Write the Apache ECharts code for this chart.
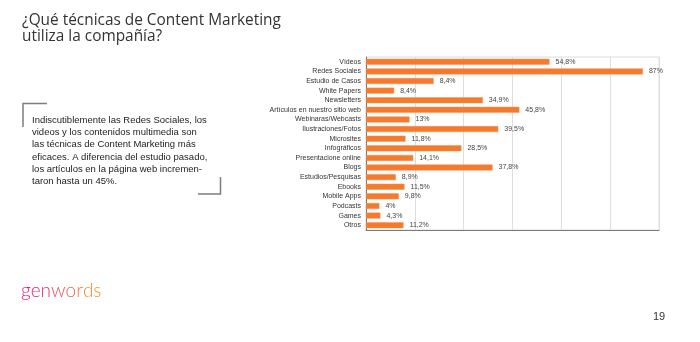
<!DOCTYPE html>
<html>
<head>
<meta charset="utf-8">
<script src="https://cdn.jsdelivr.net/npm/echarts@6/dist/echarts.min.js"></script>
<style>
html,body{margin:0;padding:0;background:#fff;}
#c{width:700px;height:342px;}
</style>
</head>
<body>
<div id="c"></div>
<script>
var categories = ["Vídeos","Redes Sociales","Estudio de Casos","White Papers","Newsletters","Artículos en nuestro sitio web","Webinaras/Webcasts","Ilustraciones/Fotos","Microsites","Infográficos","Presentacione online","Blogs","Estudios/Pesquisas","Ebooks","Mobile Apps","Podcasts","Games","Otros"];
// bar lengths as drawn in the picture (%)
var values = [54.8,82.7,20.2,8.4,34.9,45.8,13,39.5,11.8,28.5,14.1,37.8,8.9,11.5,9.8,4,4.3,11.2];
// value labels as printed
var valueLabels = ["54,8%","87%","8,4%","8,4%","34,9%","45,8%","13%","39,5%","11,8%","28,5%","14,1%","37,8%","8,9%","11,5%","9,8%","4%","4,3%","11,2%"];
var titleLines = ["¿Qué técnicas de Content Marketing","utiliza la compañía?"];
var noteLines = ["Indiscutiblemente las Redes Sociales, los","videos y los contenidos multimedia son","las técnicas de Content Marketing más","eficaces. A diferencia del estudio pasado,","los artículos en la página web incremen-","taron hasta un 45%."];
var logoLetters = ["g","e","n","w","o","r","d","s"];
var logoColors = ["#E8177F","#EA2378","#EC3470","#EF4A60","#F2634C","#F4773D","#F68830","#F79426"];
var pageNumber = "19";

var chart = echarts.init(document.getElementById('c'), null, {renderer:'canvas'});
var rich = {};
var logoText = '';
logoLetters.forEach(function(l,i){ rich['l'+i] = {fill: logoColors[i], color: logoColors[i], fontSize:19, fontFamily:'Lato, "Open Sans", sans-serif', fontWeight:300}; logoText += '{l'+i+'|'+l+'}'; });

chart.setOption({
  animation:false,
  grid:{left:366,right:41,top:57,bottom:112,show:true,borderColor:'#dcdcdc',borderWidth:1,backgroundColor:'transparent'},
  xAxis:{type:'value',min:0,max:87.5,interval:87.5/6,
    axisLabel:{show:false},axisTick:{show:false},
    axisLine:{show:true,lineStyle:{color:'#7a7a7a',width:1}},
    splitLine:{show:true,lineStyle:{color:'#dedede',width:1}}},
  yAxis:{type:'category',data:categories,inverse:true,
    axisTick:{show:false},
    axisLine:{show:true,lineStyle:{color:'#7a7a7a',width:1}},
    axisLabel:{fontSize:7,color:'#333',margin:5,fontFamily:'"Liberation Sans", Arial, sans-serif'}},
  series:[{type:'bar',data:values,barWidth:6,
    itemStyle:{color:'#F47A2C',borderColor:'#F5915A',borderWidth:0.5},
    label:{show:true,position:'right',distance:6,fontSize:7,color:'#444',fontFamily:'"Liberation Sans", Arial, sans-serif',
      formatter:function(p){return valueLabels[p.dataIndex];}}}],
  graphic:[
    {type:'text',left:22,top:12,style:{text:titleLines.join('\n'),fontSize:15.4,lineHeight:16.5,fill:'#333',fontFamily:'"Open Sans", Lato, sans-serif'}},
    {type:'text',left:32,top:114,style:{text:noteLines.join('\n'),fontSize:9.5,lineHeight:12.3,fill:'#222',fontFamily:'"Liberation Sans", Arial, sans-serif'}},
    {type:'polyline',shape:{points:[[23,127],[23,103.5],[47,103.5]]},style:{stroke:'#7d7d7d',lineWidth:1.5,fill:null}},
    {type:'polyline',shape:{points:[[198,194],[220.5,194],[220.5,177]]},style:{stroke:'#7d7d7d',lineWidth:1.5,fill:null}},
    {type:'text',left:21,top:281,style:{text:logoText,rich:rich,fontSize:19}},
    {type:'text',left:653,top:311,style:{text:pageNumber,fontSize:11,fill:'#333',fontFamily:'"Liberation Sans", Arial, sans-serif'}}
  ]
});
</script>
</body>
</html>
